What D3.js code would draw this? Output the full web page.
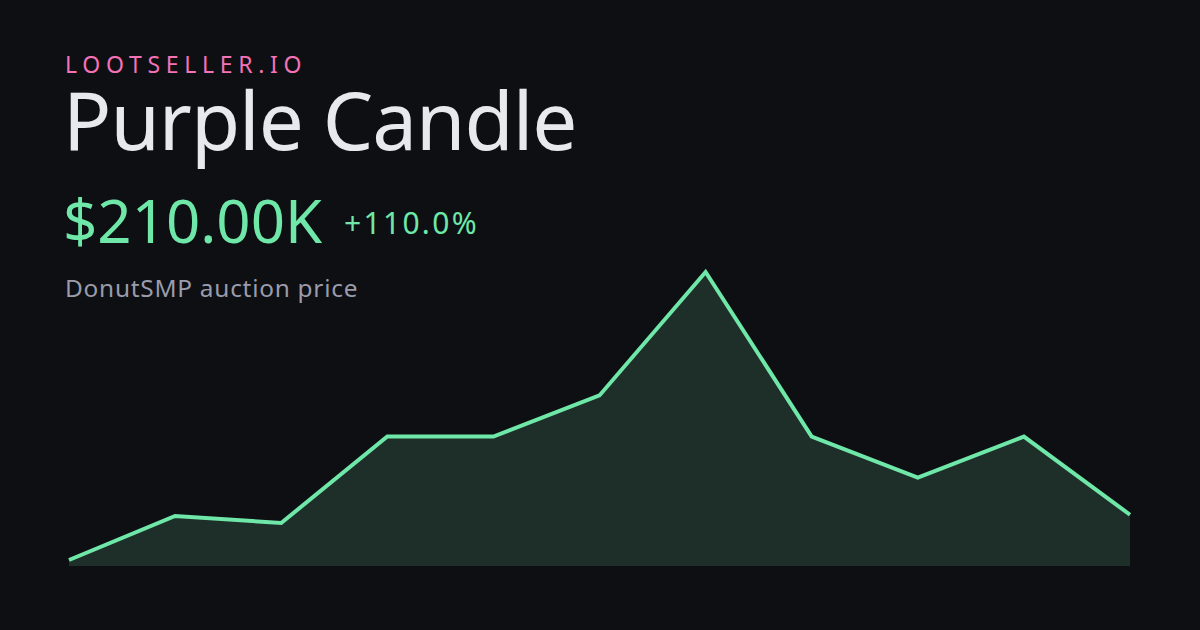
<!DOCTYPE html>
<html><head><meta charset="utf-8">
<script src="https://cdn.jsdelivr.net/npm/d3@7"></script>
<style>
html,body{margin:0;padding:0;background:#0d0f13;}
svg{display:block;}
</style></head>
<body>
<script>
const brand = "LOOTSELLER.IO";
const title = "Purple Candle";
const priceLabel = "$210.00K";
const changeLabel = "+110.0%";
const subtitle = "DonutSMP auction price";
const periods = [0,1,2,3,4,5,6,7,8,9,10];
const prices = [100, 207, 190, 400, 400, 500, 800, 400, 300, 400, 210];

const W = 1200, H = 630;
const svg = d3.select("body").append("svg").attr("width", W).attr("height", H);
svg.append("rect").attr("width", W).attr("height", H).attr("fill", "#0d0f13");

const font = "'Noto Sans', 'Open Sans', sans-serif";
svg.append("text").attr("x", 65).attr("y", 73).text(brand)
  .attr("font-family", font).attr("font-size", 23).attr("letter-spacing", 5.7)
  .attr("fill", "#f472b6");
svg.append("text").attr("x", 63).attr("y", 150).text(title)
  .attr("font-family", font).attr("font-size", 80).attr("letter-spacing", -1)
  .attr("fill", "#e8e9ed");
svg.append("text").attr("x", 63).attr("y", 243).text(priceLabel)
  .attr("font-family", font).attr("font-size", 60).attr("fill", "#6ee7a8");
svg.append("text").attr("x", 344).attr("y", 234).text(changeLabel)
  .attr("font-family", font).attr("font-size", 30).attr("letter-spacing", 2.3)
  .attr("fill", "#6ee7a8");
svg.append("text").attr("x", 65).attr("y", 297).text(subtitle)
  .attr("font-family", font).attr("font-size", 24.4).attr("letter-spacing", 0.75)
  .attr("fill", "#9a9cab");

const x = d3.scaleLinear().domain(d3.extent(periods)).range([69, 1130]);
const y = d3.scaleLinear().domain([100, 800]).range([560, 272]);
const bottom = 566;

const area = d3.area().x((d,i)=>x(periods[i])).y0(bottom).y1(d=>y(d));
const line = d3.line().x((d,i)=>x(periods[i])).y(d=>y(d));

svg.append("path").datum(prices).attr("d", area).attr("fill", "#1e2f2a");
svg.append("path").datum(prices).attr("d", line).attr("fill", "none")
  .attr("stroke", "#6ee7a8").attr("stroke-width", 4)
  .attr("stroke-linejoin", "miter").attr("stroke-linecap", "butt");
</script>
</body></html>
